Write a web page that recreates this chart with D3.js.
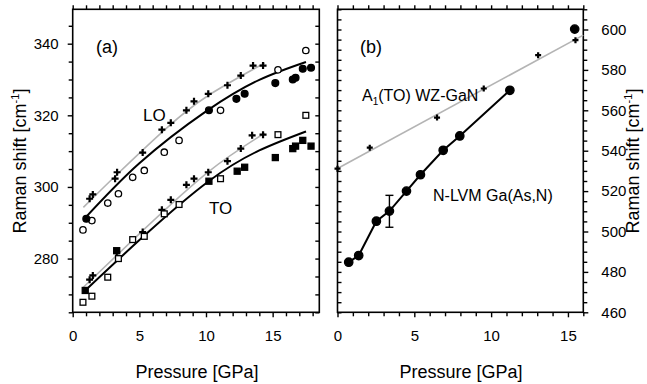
<!DOCTYPE html>
<html>
<head>
<meta charset="utf-8">
<script src="https://cdn.jsdelivr.net/npm/d3@7"></script>
<style>
  body { margin: 0; background: #fff; }
  text { font-family: "Liberation Sans", Arial, sans-serif; fill: #000; }
</style>
</head>
<body>
<div id="chart"></div>
<script>
// panel (a): [pressure GPa, Raman shift cm-1]
const loCross = [[1.27,296.7],[1.51,297.9],[3.18,302.3],[3.33,304.1],[5.25,309.6],[6.69,316.0],[7.36,317.9],[8.53,321.4],[9.10,323.9],[10.17,326.0],[11.61,328.4],[12.61,331.1],[13.53,333.9],[14.28,333.9]];
const loOpen = [[0.77,288.0],[1.44,290.6],[2.63,295.5],[3.43,298.1],[4.50,302.7],[5.37,304.6],[6.87,309.7],[7.98,313.0],[11.09,321.4],[15.4,332.7],[17.49,338.1]];
const loFilled = [[1.02,291.1],[10.22,321.4],[12.28,324.6],[12.9,326.0],[15.2,329.0],[16.51,330.0],[16.72,330.5],[17.26,333.0],[17.88,333.3]];
const loFitBlack = [[0.8,290.8],[5,306.6],[10,321.1],[14,329.9],[17.5,334.9]];
const loFitGray = [[0.8,294.3],[3.3,303.4],[7.0,316.3],[10.2,325.6],[14.4,334.6]];

const toCross = [[1.27,274.1],[1.51,275.3],[3.3,281.8],[5.25,287.4],[6.69,293.6],[7.36,296.4],[8.53,300.6],[9.10,302.3],[10.17,304.1],[11.61,307.2],[12.61,310.7],[13.46,314.4],[14.28,314.6]];
const toOpen = [[0.77,267.8],[1.44,269.5],[2.63,274.8],[3.43,280.0],[4.50,285.3],[5.37,286.2],[6.87,292.5],[7.98,295.1],[11.09,302.3],[15.4,314.6],[17.49,320.0]];
const toFilled = [[0.94,271.1],[3.3,282.2],[10.22,301.6],[12.34,304.4],[12.9,305.5],[15.2,308.2],[16.51,310.7],[16.72,311.4],[17.26,313.0],[17.88,311.4]];
const toFitBlack = [[0.8,270.6],[5.4,286.5],[10.2,301.6],[14,310.2],[17.5,315.5]];
const toFitGray = [[0.8,272.0],[5.25,287.8],[10.2,304.3],[14.4,315.0]];

// panel (b)
const gan = [[0,531.1],[2.10,541.5],[6.48,556.4],[9.52,570.8],[13.06,587.3],[15.49,594.7]];
const ganFit = [[0,531.2],[16,597.2]];
const lvm = [[0.73,484.8],[1.38,488.1],[2.53,505.1],[3.38,510.1],[4.49,520.0],[5.40,528.1],[6.88,540.2],[7.96,547.3],[11.22,569.9],[15.44,600.2]];
const lvmLine = lvm.slice(0, 9);
const lvmErr = [[3.38,502.1,517.9]];

const xTicksA = [0,5,10,15], yTicksA = [280,300,320,340];
const xTicksB = [0,5,10,15], yTicksB = [460,480,500,520,540,560,580,600];

const width = 647, height = 384;
const plotTop = 9.3, plotBottom = 312.3;

const svg = d3.select("#chart").append("svg")
  .attr("width", width).attr("height", height);

const xa = d3.scaleLinear().domain([0,18.5]).range([72.7,319.3]);
const ya = d3.scaleLinear().domain([265,349.6]).range([plotBottom, plotTop]);
const xb = d3.scaleLinear().domain([0,16]).range([337.5,583.3]);
const yb = d3.scaleLinear().domain([460,610]).range([plotBottom, plotTop]);

function frame(x, y, xMajor, yMajor, xMinorStep, yMinorStep, ySide) {
  const g = svg.append("g");
  const [x0, x1] = x.range(), [y0, y1] = y.range();
  const xMinor = d3.range(x.domain()[0], x.domain()[1] + 1e-6, xMinorStep).filter(v => !xMajor.includes(v));
  const yMinor = d3.range(Math.ceil(y.domain()[0] / yMinorStep) * yMinorStep, y.domain()[1] + 1e-6, yMinorStep).filter(v => !yMajor.includes(v));

  g.append("g").attr("transform", `translate(0,${y0})`)
    .call(d3.axisBottom(x).tickValues(xMajor).tickSize(5).tickPadding(13).tickSizeOuter(0));
  g.append("g").attr("transform", `translate(0,${y0})`)
    .call(d3.axisBottom(x).tickValues(xMinor).tickSize(4).tickFormat("").tickSizeOuter(0));
  g.append("g").attr("transform", `translate(0,${y1})`)
    .call(d3.axisTop(x).tickValues(xMajor.concat(xMinor)).tickSize(4).tickFormat("").tickSizeOuter(0));

  const left = ySide === "left";
  const labelled = left ? d3.axisLeft : d3.axisRight;
  const plain = left ? d3.axisRight : d3.axisLeft;
  const lx = left ? x0 : x1, px = left ? x1 : x0;
  g.append("g").attr("transform", `translate(${lx},0)`)
    .call(labelled(y).tickValues(yMajor).tickSize(5).tickPadding(left ? 9 : 13).tickSizeOuter(0));
  g.append("g").attr("transform", `translate(${lx},0)`)
    .call(labelled(y).tickValues(yMinor).tickSize(4).tickFormat("").tickSizeOuter(0));
  g.append("g").attr("transform", `translate(${px},0)`)
    .call(plain(y).tickValues(yMajor.concat(yMinor)).tickSize(-4).tickFormat("").tickSizeOuter(0));

  g.append("rect").attr("x", x0).attr("y", y1).attr("width", x1 - x0).attr("height", y0 - y1)
    .attr("fill", "none").attr("stroke", "#000").attr("stroke-width", 1.6);
  g.selectAll(".domain").remove();
  g.selectAll(".tick line").attr("stroke", "#000").attr("stroke-width", 1.4);
  g.selectAll(".tick text").style("font-size", "15px").style("font-family", "Liberation Sans, Arial, sans-serif");
}

frame(xa, ya, xTicksA, yTicksA, 1, 5, "left");
frame(xb, yb, xTicksB, yTicksB, 1, 5, "right");

function fit(pts, x, y, color, w, curve) {
  svg.append("path").datum(pts)
    .attr("d", d3.line().x(d => x(d[0])).y(d => y(d[1])).curve(curve || d3.curveNatural))
    .attr("fill", "none").attr("stroke", color).attr("stroke-width", w);
}

fit(loFitGray, xa, ya, "#b4b4b4", 1.6);
fit(toFitGray, xa, ya, "#b4b4b4", 1.6);
fit(loFitBlack, xa, ya, "#000", 2);
fit(toFitBlack, xa, ya, "#000", 2);
fit(ganFit, xb, yb, "#b4b4b4", 1.6, d3.curveLinear);
fit(lvmLine, xb, yb, "#000", 2, d3.curveLinear);

function crosses(pts, x, y, s) {
  svg.append("g").selectAll("path").data(pts).join("path")
    .attr("d", d => `M${x(d[0]) - s},${y(d[1])}H${x(d[0]) + s}M${x(d[0])},${y(d[1]) - s}V${y(d[1]) + s}`)
    .attr("stroke", "#000").attr("stroke-width", 2.2);
}
function circles(pts, x, y, r, filled) {
  svg.append("g").selectAll("circle").data(pts).join("circle")
    .attr("cx", d => x(d[0])).attr("cy", d => y(d[1])).attr("r", r)
    .attr("fill", filled ? "#000" : "#fff").attr("stroke", "#000").attr("stroke-width", 1.3);
}
function squares(pts, x, y, s, filled) {
  svg.append("g").selectAll("rect").data(pts).join("rect")
    .attr("x", d => x(d[0]) - s / 2).attr("y", d => y(d[1]) - s / 2).attr("width", s).attr("height", s)
    .attr("fill", filled ? "#000" : "#fff").attr("stroke", "#000").attr("stroke-width", 1.3);
}

crosses(loCross, xa, ya, 3.5);
crosses(toCross, xa, ya, 3.5);
circles(loOpen, xa, ya, 3.2, false);
circles(loFilled, xa, ya, 3.4, true);
squares(toOpen, xa, ya, 5.8, false);
squares(toFilled, xa, ya, 6, true);

crosses(gan, xb, yb, 3);
circles(lvm, xb, yb, 4.2, true);
const eb = svg.append("g").attr("stroke", "#000").attr("stroke-width", 1.4);
lvmErr.forEach(d => {
  eb.append("line").attr("x1", xb(d[0])).attr("x2", xb(d[0])).attr("y1", yb(d[1])).attr("y2", yb(d[2]));
  eb.append("line").attr("x1", xb(d[0]) - 4).attr("x2", xb(d[0]) + 4).attr("y1", yb(d[1])).attr("y2", yb(d[1]));
  eb.append("line").attr("x1", xb(d[0]) - 4).attr("x2", xb(d[0]) + 4).attr("y1", yb(d[2])).attr("y2", yb(d[2]));
});

// annotations
const lab = (x, y, s, size, anchor) => svg.append("text").attr("x", x).attr("y", y)
  .attr("text-anchor", anchor || "start").style("font-size", size + "px").text(s);
lab(96, 53, "(a)", 18);
lab(360, 53, "(b)", 18);
lab(143, 121, "LO", 17);
lab(209, 214, "TO", 17);
lab(433, 201, "N-LVM Ga(As,N)", 16);
const a1 = svg.append("text").attr("x", 362).attr("y", 101).style("font-size", "16px");
a1.append("tspan").text("A");
a1.append("tspan").attr("dy", 4).style("font-size", "10px").text("1");
a1.append("tspan").attr("dy", -4).text("(TO) WZ-GaN");

lab(197, 378, "Pressure [GPa]", 18, "middle");
lab(461, 378, "Pressure [GPa]", 18, "middle");

function yTitle(x, y) {
  const t = svg.append("text").attr("transform", `translate(${x},${y}) rotate(-90)`)
    .attr("text-anchor", "middle").style("font-size", "18px");
  t.append("tspan").text("Raman shift [cm");
  t.append("tspan").attr("dy", -7).style("font-size", "11px").text("-1");
  t.append("tspan").attr("dy", 7).text("]");
}
yTitle(26, 161);
yTitle(639, 161);
</script>
</body>
</html>
